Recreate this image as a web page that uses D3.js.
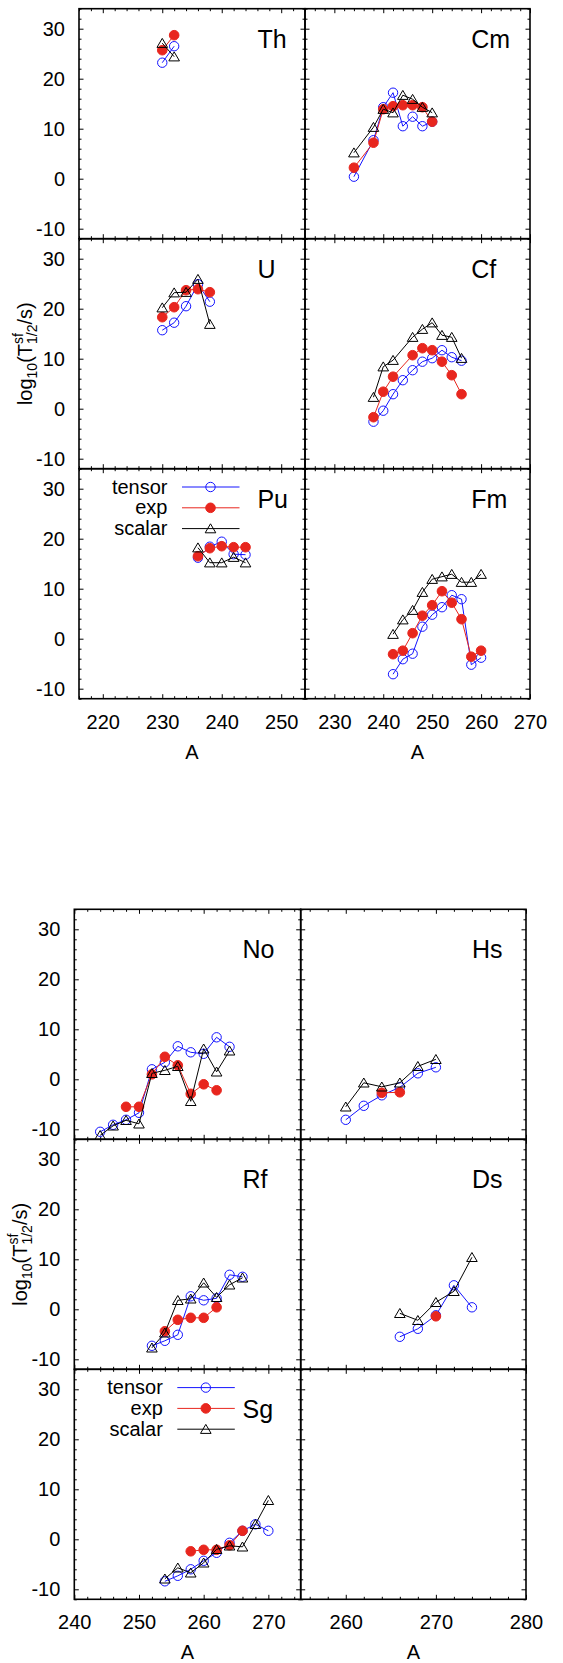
<!DOCTYPE html>
<html>
<head>
<meta charset="utf-8">
<script src="https://cdn.jsdelivr.net/npm/d3@7"></script>
<style>
  body { margin: 0; background: #fff; }
  text { font-family: "Liberation Sans", Arial, Helvetica, sans-serif; }
</style>
</head>
<body>
<div id="chart"></div>
<script>
// log10(T_sf / s), per element; null = no point
const thA      = [230, 232];
const thTensor = [23.2, 26.5];
const thExp    = [25.7, 28.7];
const thScalar = [27.1, 24.4];

const cmA      = [234, 238, 240, 242, 244, 246, 248, 250];
const cmTensor = [0.4, 7.7, 14.3, 17.2, 10.5, 12.4, 10.5, 11.4];
const cmExp    = [2.2, 7.2, 13.9, 14.5, 14.7, 14.7, 14.3, 11.4];
const cmScalar = [5.2, 10.3, 13.9, 13.2, 16.7, 15.9, 14.3, 13.2];

const uA      = [230, 232, 234, 236, 238];
const uTensor = [15.7, 17.2, 20.5, 24.9, 21.4];
const uExp    = [18.3, 20.3, 23.7, 23.9, 23.3];
const uScalar = [20.2, 23.2, 23.3, 25.9, 16.9];

const cfA      = [238, 240, 242, 244, 246, 248, 250, 252, 254, 256];
const cfTensor = [-2.6, -0.4, 2.9, 5.7, 7.7, 9.4, 10.1, 11.7, 10.3, 9.6];
const cfExp    = [-1.7, 3.4, 6.4, null, 10.7, 12.1, 11.7, 9.4, 6.7, 2.9];
const cfScalar = [2.3, 8.4, 9.7, null, 14.3, 15.9, 17.2, 14.7, 14.3, 10.1];

const puA      = [236, 238, 240, 242, 244];
const puTensor = [16.2, 18.4, 19.4, 16.9, 16.8];
const puExp    = [16.5, 18.1, 18.5, 18.3, 18.3];
const puScalar = [18.2, 15.2, 15.2, 16.3, 15.2];

const fmA      = [242, 244, 246, 248, 250, 252, 254, 256, 258, 260];
const fmTensor = [-7.1, -4.1, -3.0, 2.4, 4.8, 6.3, 8.7, 7.9, -5.2, -3.8];
const fmExp    = [-3.1, -2.4, 1.1, 4.6, 6.7, 9.5, 7.2, 3.9, -3.6, -2.4];
const fmScalar = [0.9, 3.8, 5.7, 9.3, 11.9, 12.4, 12.9, 11.3, 11.3, 12.9];

const noA      = [244, 246, 248, 250, 252, 254, 256, 258, 260, 262, 264];
const noTensor = [-10.5, -9.1, -8.1, -6.7, 2.0, 3.4, 6.6, 5.4, 5.1, 8.4, 6.5];
const noExp    = [null, null, -5.5, -5.5, 1.0, 4.5, 2.8, -2.9, -1.0, -2.2, null];
const noScalar = [-11.2, -9.3, -8.2, -8.9, 1.2, 1.8, 2.6, -4.4, 6.1, 1.5, 5.7];

const hsA      = [260, 262, 264, 266, 268, 270];
const hsTensor = [-8.1, -5.3, -3.2, -1.6, 1.2, 2.4];
const hsExp    = [null, null, -2.7, -2.6, null, null];
const hsScalar = [-5.5, -0.7, -1.5, -0.7, 2.6, 4.0];

const rfA      = [252, 254, 256, 258, 260, 262, 264, 266];
const rfTensor = [-7.3, -6.3, -5.1, 2.6, 1.8, 2.2, 6.9, 6.5];
const rfExp    = [null, -4.4, -2.1, -1.7, -1.7, 0.4, null, null];
const rfScalar = [-7.7, -4.7, 1.8, 2.1, 5.3, 2.4, 4.9, 6.3];

const dsA      = [266, 268, 270, 272, 274];
const dsTensor = [-5.5, -3.9, -1.2, 4.8, 0.4];
const dsExp    = [null, null, -1.4, null, null];
const dsScalar = [-0.8, -2.2, 1.4, 3.6, 10.4];

const sgA      = [254, 256, 258, 260, 262, 264, 266, 268, 270];
const sgTensor = [-8.4, -7.3, -6.0, -4.3, -2.7, -0.7, 1.7, 3.0, 1.7];
const sgExp    = [null, null, -2.4, -2.1, -2.1, -1.2, 1.7, null, null];
const sgScalar = [-7.9, -5.7, -6.7, -4.7, -2.0, -1.3, -1.5, 3.0, 7.8];

const seriesNames = ["tensor", "exp", "scalar"];
const yTicks = [-10, 0, 10, 20, 30];

// layout of the two blocks of 2x3 panels
const W = 563, H = 1663, rowH = 230;
const halves = [
  { y0: 8.7, xs: [79, 305, 530], xDom: [[216, 254], [224, 270]], labelAt: [[246, 28], [258, 28]] },
  { y0: 909.3, xs: [74.3, 300.7, 526], xDom: [[240, 275], [255, 280]], labelAt: [[266, 26], [274, 26]] }
];

const panels = [
  { half: 0, row: 0, col: 0, name: "Th", A: thA, vals: [thTensor, thExp, thScalar] },
  { half: 0, row: 0, col: 1, name: "Cm", A: cmA, vals: [cmTensor, cmExp, cmScalar] },
  { half: 0, row: 1, col: 0, name: "U",  A: uA,  vals: [uTensor, uExp, uScalar] },
  { half: 0, row: 1, col: 1, name: "Cf", A: cfA, vals: [cfTensor, cfExp, cfScalar] },
  { half: 0, row: 2, col: 0, name: "Pu", A: puA, vals: [puTensor, puExp, puScalar], legend: true },
  { half: 0, row: 2, col: 1, name: "Fm", A: fmA, vals: [fmTensor, fmExp, fmScalar] },
  { half: 1, row: 0, col: 0, name: "No", A: noA, vals: [noTensor, noExp, noScalar] },
  { half: 1, row: 0, col: 1, name: "Hs", A: hsA, vals: [hsTensor, hsExp, hsScalar] },
  { half: 1, row: 1, col: 0, name: "Rf", A: rfA, vals: [rfTensor, rfExp, rfScalar] },
  { half: 1, row: 1, col: 1, name: "Ds", A: dsA, vals: [dsTensor, dsExp, dsScalar] },
  { half: 1, row: 2, col: 0, name: "Sg", A: sgA, vals: [sgTensor, sgExp, sgScalar], legend: true },
  { half: 1, row: 2, col: 1, name: null }
];

const colors = { tensor: "#1414ff", exp: "#e8261e", scalar: "#000" };
const triPath = "M0,-4.8L5.3,4.2L-5.3,4.2Z";
const plain = d => String(d);   // hyphen minus, as in the original
const blank = () => "";

const svg = d3.select("#chart").append("svg")
  .attr("width", W)
  .attr("height", H);

function drawMarker(g, name, cx, cy) {
  if (name === "tensor") {
    g.append("circle").attr("cx", cx).attr("cy", cy).attr("r", 4.7)
      .attr("fill", "none").attr("stroke", colors.tensor).attr("stroke-width", 1);
  } else if (name === "exp") {
    g.append("circle").attr("cx", cx).attr("cy", cy).attr("r", 4.8)
      .attr("fill", colors.exp).attr("stroke", colors.exp).attr("stroke-width", 1);
  } else {
    g.append("path").attr("d", triPath).attr("transform", `translate(${cx},${cy})`)
      .attr("fill", "none").attr("stroke", colors.scalar).attr("stroke-width", 1);
  }
}

function styleAxis(g) {
  g.select(".domain").remove();
  g.attr("font-size", 20).attr("font-family", null).attr("color", "#000");
  g.selectAll(".tick line").attr("stroke-width", 1);
}

panels.forEach(p => {
  const h = halves[p.half];
  const x0 = h.xs[p.col], x1 = h.xs[p.col + 1];
  const y0 = h.y0 + p.row * rowH, y1 = y0 + rowH;
  const dom = h.xDom[p.col];

  const x = d3.scaleLinear().domain(dom).range([x0, x1]);
  const y = d3.scaleLinear().domain([-12, 34]).range([y1, y0]);

  const xMajor = d3.range(Math.ceil(dom[0] / 10) * 10, dom[1] + 0.01, 10);
  const xMinor = d3.range(Math.ceil(dom[0] / 2) * 2, dom[1] + 0.01, 2).filter(v => v % 10 !== 0);
  const yMinor = d3.range(-12, 34.01, 2).filter(v => v % 10 !== 0);

  const g = svg.append("g");
  const showX = p.row === 2, showY = p.col === 0;

  // ticks on all four sides, pointing inwards
  g.append("g").attr("transform", `translate(0,${y1})`)
    .call(d3.axisBottom(x).tickValues(xMajor).tickSize(-4.5).tickPadding(15.8)
      .tickFormat(showX ? plain : blank))
    .call(styleAxis);
  g.append("g").attr("transform", `translate(0,${y1})`)
    .call(d3.axisBottom(x).tickValues(xMinor).tickSize(-2.5).tickFormat(blank))
    .call(styleAxis);
  g.append("g").attr("transform", `translate(0,${y0})`)
    .call(d3.axisTop(x).tickValues(xMajor).tickSize(-4.5).tickFormat(blank))
    .call(styleAxis);
  g.append("g").attr("transform", `translate(0,${y0})`)
    .call(d3.axisTop(x).tickValues(xMinor).tickSize(-2.5).tickFormat(blank))
    .call(styleAxis);
  g.append("g").attr("transform", `translate(${x0},0)`)
    .call(d3.axisLeft(y).tickValues(yTicks).tickSize(-4.5).tickPadding(14)
      .tickFormat(showY ? plain : blank))
    .call(styleAxis);
  g.append("g").attr("transform", `translate(${x0},0)`)
    .call(d3.axisLeft(y).tickValues(yMinor).tickSize(-2.5).tickFormat(blank))
    .call(styleAxis);
  g.append("g").attr("transform", `translate(${x1},0)`)
    .call(d3.axisRight(y).tickValues(yTicks).tickSize(-4.5).tickFormat(blank))
    .call(styleAxis);
  g.append("g").attr("transform", `translate(${x1},0)`)
    .call(d3.axisRight(y).tickValues(yMinor).tickSize(-2.5).tickFormat(blank))
    .call(styleAxis);

  g.append("rect")
    .attr("x", x0).attr("y", y0)
    .attr("width", x1 - x0).attr("height", y1 - y0)
    .attr("fill", "none").attr("stroke", "#000").attr("stroke-width", 1.6);

  if (showX) {
    g.append("text")
      .attr("x", (x0 + x1) / 2).attr("y", y1 + 60)
      .attr("text-anchor", "middle").attr("font-size", 20)
      .text("A");
  }

  if (!p.name) return;

  // series: tensor, exp, scalar (drawn in that order)
  seriesNames.forEach((s, i) => {
    const pts = p.A.map((a, k) => [a, p.vals[i][k]]).filter(d => d[1] !== null);
    const line = d3.line().x(d => x(d[0])).y(d => y(d[1]));
    g.append("path")
      .datum(pts)
      .attr("d", line)
      .attr("fill", "none")
      .attr("stroke", colors[s])
      .attr("stroke-width", 1);
    const mg = g.append("g");
    pts.forEach(d => drawMarker(mg, s, x(d[0]), y(d[1])));
  });

  const la = h.labelAt[p.col];
  g.append("text")
    .attr("x", x(la[0])).attr("y", y(la[1]))
    .attr("dy", "0.36em")
    .attr("font-size", 25)
    .text(p.name);

  if (p.legend) {
    seriesNames.forEach((s, i) => {
      const ly = y0 + 18.3 + i * 20.8;
      g.append("text")
        .attr("x", x0 + 88.5).attr("y", ly + 6.5)
        .attr("text-anchor", "end").attr("font-size", 20)
        .text(s);
      g.append("line")
        .attr("x1", x0 + 103).attr("x2", x0 + 160.5)
        .attr("y1", ly).attr("y2", ly)
        .attr("stroke", colors[s]).attr("stroke-width", 1);
      drawMarker(g, s, x0 + 131.5, ly);
    });
  }
});

// y-axis titles, one per block, centred on the middle row
halves.forEach(h => {
  const t = svg.append("text")
    .attr("transform", `translate(${h.xs[0] - 47},${h.y0 + rowH * 1.5}) rotate(-90)`)
    .attr("text-anchor", "middle")
    .attr("font-size", 20);
  t.append("tspan").text("log");
  t.append("tspan").attr("font-size", 14).attr("dy", 5).text("10");
  t.append("tspan").attr("dy", -5).text("(T");
  t.append("tspan").attr("font-size", 14).attr("dy", -9).text("sf");
  t.append("tspan").attr("font-size", 14).attr("dx", -10.9).attr("dy", 14).text("1/2");
  t.append("tspan").attr("dy", -5).text("/s)");
});
</script>
</body>
</html>
